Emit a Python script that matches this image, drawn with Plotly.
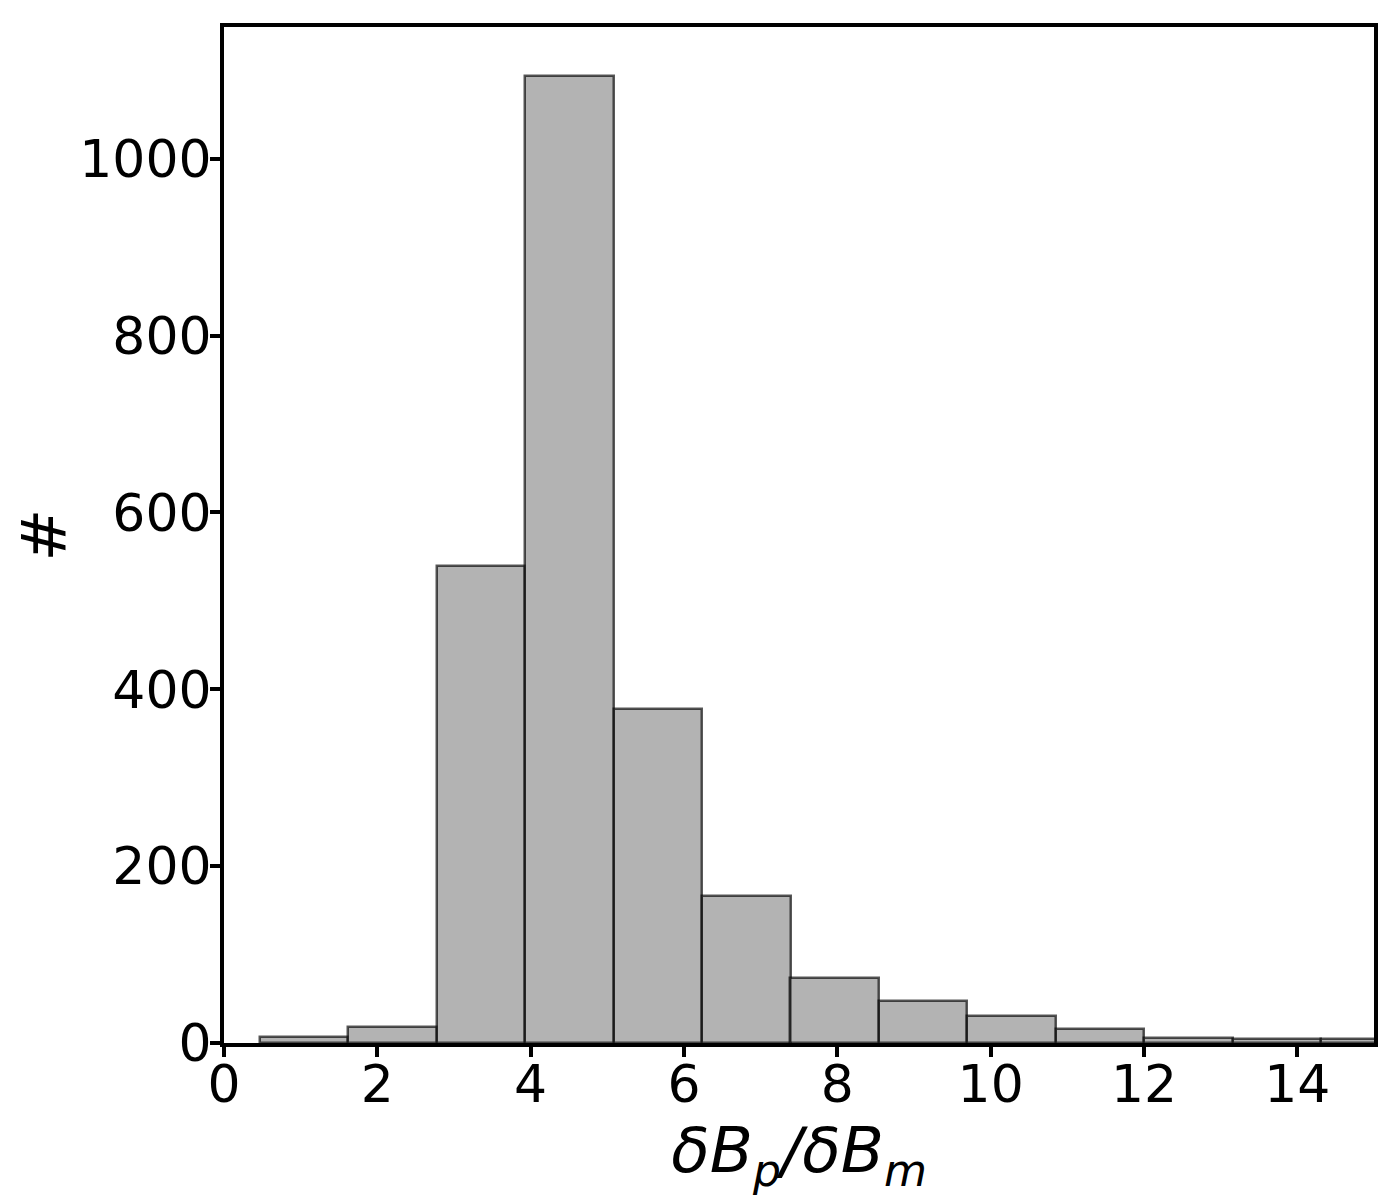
import plotly.graph_objects as go

# Histogram data
bin_left = [0.469, 1.622, 2.776, 3.929, 5.083, 6.236, 7.389, 8.543, 9.696, 10.850, 12.003, 13.156, 14.310]
bin_width = 1.1534
counts = [7, 18, 540, 1094, 378, 166, 74, 48, 30, 16, 6, 4, 4]
x_ticks = [0, 2, 4, 6, 8, 10, 12, 14]
y_ticks = [0, 200, 400, 600, 800, 1000]

fig = go.Figure()
fig.add_trace(go.Bar(
    x=bin_left,
    y=counts,
    width=[bin_width] * len(counts),
    offset=0,
    marker=dict(color="rgba(128,128,128,0.6)",
                line=dict(color="rgba(0,0,0,0.65)", width=2.5)),
    showlegend=False,
))

font = "DejaVu Sans, sans-serif"
fig.update_layout(
    width=1400, height=1200,
    paper_bgcolor="white", plot_bgcolor="white",
    margin=dict(l=216, r=34, t=19, b=165),
    bargap=0,
    font=dict(family=font, color="black", size=52),
)
fig.update_xaxes(
    range=[0, 15], tickvals=x_ticks, ticktext=[str(v) for v in x_ticks],
    showline=True, linecolor="black", linewidth=4, mirror=True,
    ticks="outside", ticklen=10, tickwidth=4, tickcolor="black",
    ticklabelstandoff=-17,
    showgrid=False, zeroline=False, automargin=False,
    tickfont=dict(size=52, family=font),
    title=dict(text="<i>δB<sub>p</sub>/δB<sub>m</sub></i>", font=dict(size=63, family=font), standoff=2),
)
fig.update_yaxes(
    range=[0, 1149], tickvals=y_ticks, ticktext=[str(v) for v in y_ticks],
    showline=True, linecolor="black", linewidth=4, mirror=True,
    ticks="outside", ticklen=10, tickwidth=4, tickcolor="black",
    ticklabelstandoff=-12,
    showgrid=False, zeroline=False, automargin=False,
    tickfont=dict(size=52, family=font),
    title=dict(text="#", font=dict(size=63, family=font), standoff=52),
)

fig.write_html("out.html")
